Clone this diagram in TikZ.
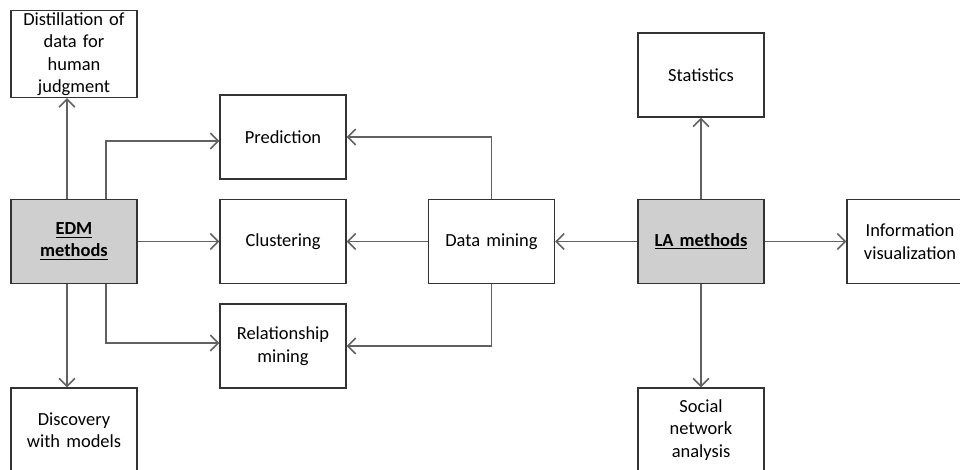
\documentclass[tikz,border=0pt]{standalone}
\usepackage{fontspec}
\setmainfont{Carlito}
\usetikzlibrary{arrows.meta}
\begin{document}
\begin{tikzpicture}[font=\fontsize{10.5}{12.8}\selectfont, >={Straight Barb[length=4.5pt,width=9pt]},
          mbox/.style={draw=black!80, line width=0.8pt, align=center, text width=2.4cm, inner sep=1pt,
                       minimum width=2.52cm, minimum height=1.68cm},
          hub/.style={mbox, fill=black!19, font=\fontsize{10.5}{12.8}\selectfont\bfseries},
          link/.style={->, draw=black!62, line width=0.85pt}]
        \useasboundingbox (0,0) rectangle (19.2,-9.38);
        \node[mbox] (distill) at (1.48,-1.08) {Distillation of\\data for\\human\\judgment};
        \node[hub] (edm) at (1.48,-4.83) {\underline{EDM}\\\underline{methods}};
        \node[mbox] (discov) at (1.48,-8.60) {Discovery\\with models};
        \node[mbox] (pred) at (5.66,-2.74) {Prediction};
        \node[mbox] (clus) at (5.66,-4.83) {Clustering};
        \node[mbox] (rel) at (5.66,-6.92) {Relationship\\mining};
        \node[mbox] (dm) at (9.83,-4.83) {Data mining};
        \node[hub] (la) at (14.02,-4.83) {\underline{LA methods}};
        \node[mbox] (stat) at (14.02,-1.50) {Statistics};
        \node[mbox] (social) at (14.02,-8.60) {Social\\network\\analysis};
        \node[mbox] (info) at (18.20,-4.83) {Information\\visualization};
        \draw[link] ([xshift=-0.14cm]edm.north) -- ([xshift=-0.14cm]distill.south);
        \draw[link] ([xshift=0.64cm]edm.north) |- ([yshift=-0.08cm]pred.west);
        \draw[link] (edm) -- (clus);
        \draw[link] ([xshift=0.64cm]edm.south) |- ([yshift=0.06cm]rel.west);
        \draw[link] ([xshift=-0.14cm]edm.south) -- ([xshift=-0.14cm]discov.north);
        \draw[link] (dm.north) |- (pred.east);
        \draw[link] (dm) -- (clus);
        \draw[link] (dm.south) |- (rel.east);
        \draw[link] (la) -- (dm);
        \draw[link] (la) -- (stat);
        \draw[link] (la) -- (info);
        \draw[link] (la) -- (social);
      \end{tikzpicture}
\end{document}
